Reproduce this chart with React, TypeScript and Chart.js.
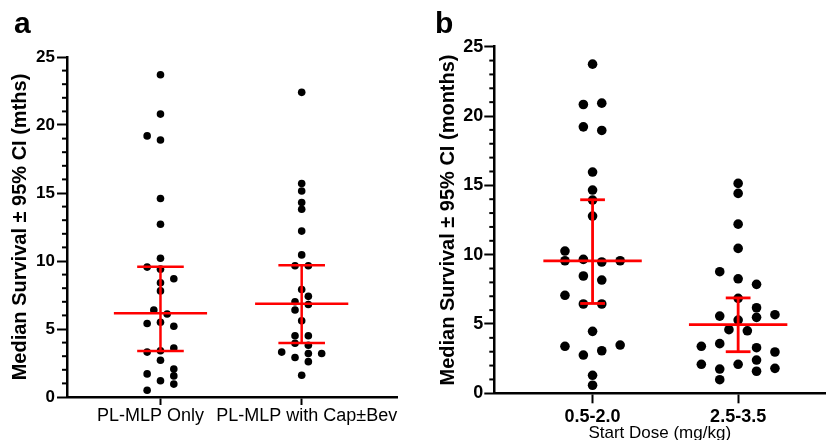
import { useEffect, useRef } from "react";
import { Chart, registerables } from "chart.js";

Chart.register(...registerables);

const FONT = "'Liberation Sans', Arial, Helvetica, sans-serif";

// ---------- Panel a data ----------
const A_CATEGORIES = ["PL-MLP Only", "PL-MLP with Cap±Bev"];
const A_ONLY = [23.7, 20.8, 19.2, 18.9, 14.6, 12.7, 10.2, 9.55, 9.4, 8.7, 8.4, 7.8, 6.4, 6.1, 5.4, 5.5, 5.2, 3.3, 3.4, 3.6, 2.7, 2.05, 1.7, 1.55, 1.2, 0.95, 0.5];
const A_ONLY_DODGE = [0, 0, -2, 0, 0, 0, 0, -2, 0, 2, 0, 0, -1, 1, -2, 0, 2, -2, 0, 2, 0, 2, -2, 2, 0, 2, -2];
const A_CAP = [22.4, 15.7, 15.15, 14.3, 13.8, 12.2, 10.45, 9.65, 9.65, 7.9, 7.4, 7.0, 6.8, 6.4, 5.6, 4.5, 4.5, 3.95, 3.8, 3.3, 3.2, 3.2, 2.9, 2.6, 1.6];
const A_CAP_DODGE = [0, 0, 0, 0, 0, 0, 0, -1, 1, 0, 1, -1, 1, -1, 0, -1, 1, -1, 1, -3, 3, 1, -1, 1, 0];
const A_MEDIAN = [6.15, 6.85];
const A_CI_LOW = [3.38, 3.97];
const A_CI_HIGH = [9.58, 9.68];

// ---------- Panel b data ----------
const B_CATEGORIES = ["0.5-2.0", "2.5-3.5"];
const B_LOWDOSE = [23.74, 20.83, 20.93, 19.22, 18.96, 15.96, 14.66, 13.94, 12.78, 10.26, 9.56, 9.66, 9.47, 9.56, 8.46, 8.17, 7.07, 6.44, 6.44, 4.47, 3.39, 3.48, 2.76, 3.07, 1.3, 0.58];
const B_LOWDOSE_DODGE = [0, -1, 1, -1, 1, 0, 0, 0, 0, -3, -3, -1, 1, 3, -1, 1, -3, -1, 1, 0, -3, 3, -1, 1, 0, 0];
const B_HIGHDOSE = [15.14, 14.42, 12.2, 10.45, 8.77, 8.26, 7.86, 6.85, 6.17, 5.57, 5.67, 5.48, 5.28, 4.59, 4.51, 3.39, 3.58, 3.29, 2.98, 2.4, 2.09, 2.09, 1.75, 1.8, 1.59, 0.98];
const B_HIGHDOSE_DODGE = [0, 0, 0, 0, -2, 0, 2, 0, 2, -2, 4, 2, 0, -1, 1, -4, -2, 2, 4, 2, -4, 0, -2, 4, 2, -2];
const B_MEDIAN = [9.55, 4.95];
const B_CI_LOW = [6.48, 3.0];
const B_CI_HIGH = [13.96, 6.88];

// ---------- Shared axis values ----------
const Y_MIN = 0;
const Y_MAX = 25;
const Y_MAJOR_STEP = 5;
const Y_MINOR_STEP = 1;

type Panel = {
  categories: string[];
  groups: number[][];
  dodges: number[][];
  medians: number[];
  ciLow: number[];
  ciHigh: number[];
  yTitle: string;
  xTitle?: string;
  style: {
    width: number;
    height: number;
    padTop: number;
    padRight: number;
    yAxisWidth: number;
    xAxisHeight: number;
    xMin: number;
    xMax: number;
    dodgeUnit: number;
    medianHalf: number;
    capHalf: number;
    pointRadius: number;
    redWidth: number;
    yTickSize: number;
    yTickPad: number;
    yTitleSize: number;
    yTitlePad: number;
    xTickSize: number;
    xTickBold: boolean;
    xTickLen: number;
    xTickPad: number;
    xLabelSpaces: [number, number][];
  };
};

const minorTicks = {
  id: "minorTicks",
  afterDraw(chart: any) {
    const y = chart.scales.y;
    const ctx = chart.ctx;
    ctx.save();
    ctx.strokeStyle = "#000";
    ctx.lineWidth = 2;
    for (let v = Y_MIN; v <= Y_MAX; v += Y_MINOR_STEP) {
      if (v % Y_MAJOR_STEP === 0) continue;
      const py = y.getPixelForValue(v);
      ctx.beginPath();
      ctx.moveTo(y.right - 5, py);
      ctx.lineTo(y.right, py);
      ctx.stroke();
    }
    ctx.restore();
  },
};

function buildConfig(p: Panel): any {
  const s = p.style;
  const datasets: any[] = [];
  const red = "#ff0000";
  p.medians.forEach((med, i) => {
    const c = i + 1;
    const segs = [
      [{ x: c - s.medianHalf, y: med }, { x: c + s.medianHalf, y: med }],
      [{ x: c, y: p.ciLow[i] }, { x: c, y: p.ciHigh[i] }],
      [{ x: c - s.capHalf, y: p.ciHigh[i] }, { x: c + s.capHalf, y: p.ciHigh[i] }],
      [{ x: c - s.capHalf, y: p.ciLow[i] }, { x: c + s.capHalf, y: p.ciLow[i] }],
    ];
    segs.forEach((d) =>
      datasets.push({
        data: d,
        showLine: true,
        borderColor: red,
        borderWidth: s.redWidth,
        pointRadius: 0,
        fill: false,
        order: 0,
        clip: false,
      })
    );
  });
  p.groups.forEach((vals, i) => {
    const c = i + 1;
    datasets.push({
      data: vals.map((v, k) => ({ x: c + p.dodges[i][k] * s.dodgeUnit, y: v })),
      showLine: false,
      pointRadius: s.pointRadius,
      pointBackgroundColor: "#000",
      pointBorderWidth: 0,
      order: 1,
      clip: false,
    });
  });

  return {
    type: "scatter",
    data: { datasets },
    options: {
      responsive: false,
      animation: false,
      events: [],
      layout: { padding: { top: s.padTop, right: s.padRight, left: 0, bottom: 0 } },
      plugins: { legend: { display: false }, tooltip: { enabled: false }, title: { display: false } },
      scales: {
        x: {
          type: "linear",
          min: s.xMin,
          max: s.xMax,
          afterBuildTicks: (axis: any) => {
            axis.ticks = p.categories.map((_, i) => ({ value: i + 1 }));
          },
          afterFit: (axis: any) => {
            axis.height = s.xAxisHeight;
          },
          ticks: {
            callback: (v: any) => {
              const i = Math.round(Number(v)) - 1;
              const label = p.categories[i];
              if (label === undefined) return "";
              const [lead, trail] = s.xLabelSpaces[i] || [0, 0];
              return " ".repeat(lead) + label + " ".repeat(trail);
            },
            color: "#000",
            font: { family: FONT, size: s.xTickSize, weight: s.xTickBold ? "bold" : "normal" },
            padding: s.xTickPad,
            maxRotation: 0,
            autoSkip: false,
          },
          grid: {
            drawOnChartArea: false,
            drawTicks: true,
            tickLength: s.xTickLen,
            tickWidth: 2,
            tickColor: "#000",
          },
          border: { display: true, color: "#000", width: 2.5 },
          title: p.xTitle
            ? {
                display: true,
                text: p.xTitle,
                color: "#000",
                font: { family: FONT, size: 17, lineHeight: 0.8 },
                padding: { top: 0, bottom: 0 },
              }
            : { display: false },
        },
        y: {
          type: "linear",
          min: Y_MIN,
          max: Y_MAX,
          afterFit: (axis: any) => {
            axis.width = s.yAxisWidth;
          },
          ticks: {
            stepSize: Y_MAJOR_STEP,
            color: "#000",
            font: { family: FONT, size: s.yTickSize, weight: "bold" },
            padding: s.yTickPad,
          },
          grid: {
            drawOnChartArea: false,
            drawTicks: true,
            tickLength: 10,
            tickWidth: 2,
            tickColor: "#000",
          },
          border: { display: true, color: "#000", width: 2.5 },
          title: {
            display: true,
            text: p.yTitle,
            color: "#000",
            font: { family: FONT, size: s.yTitleSize, weight: "bold" },
            padding: { top: s.yTitlePad, bottom: 0 },
          },
        },
      },
    },
    plugins: [minorTicks],
  };
}

const PANEL_A: Panel = {
  categories: A_CATEGORIES,
  groups: [A_ONLY, A_CAP],
  dodges: [A_ONLY_DODGE, A_CAP_DODGE],
  medians: A_MEDIAN,
  ciLow: A_CI_LOW,
  ciHigh: A_CI_HIGH,
  yTitle: "Median Survival ± 95% CI (mths)",
  style: {
    width: 415,
    height: 440,
    padTop: 57,
    padRight: 18,
    yAxisWidth: 67,
    xAxisHeight: 43,
    xMin: 0.338,
    xMax: 2.675,
    dodgeUnit: 0.0472,
    medianHalf: 0.33,
    capHalf: 0.165,
    pointRadius: 3.8,
    redWidth: 2.5,
    yTickSize: 17,
    yTickPad: 2,
    yTitleSize: 20,
    yTitlePad: 8,
    xTickSize: 18,
    xTickBold: false,
    xTickLen: 8,
    xTickPad: 0,
    xLabelSpaces: [
      [0, 4],
      [2, 0],
    ],
  },
};

const PANEL_B: Panel = {
  categories: B_CATEGORIES,
  groups: [B_LOWDOSE, B_HIGHDOSE],
  dodges: [B_LOWDOSE_DODGE, B_HIGHDOSE_DODGE],
  medians: B_MEDIAN,
  ciLow: B_CI_LOW,
  ciHigh: B_CI_HIGH,
  yTitle: "Median Survival ± 95% CI (months)",
  xTitle: "Start Dose (mg/kg)",
  style: {
    width: 415,
    height: 440,
    padTop: 46.7,
    padRight: 0,
    yAxisWidth: 79.3,
    xAxisHeight: 46.7,
    xMin: 0.325,
    xMax: 2.598,
    dodgeUnit: 0.0632,
    medianHalf: 0.338,
    capHalf: 0.085,
    pointRadius: 4.8,
    redWidth: 2.8,
    yTickSize: 18,
    yTickPad: 1,
    yTitleSize: 20,
    yTitlePad: 21,
    xTickSize: 18,
    xTickBold: true,
    xTickLen: 10,
    xTickPad: 3,
    xLabelSpaces: [
      [0, 0],
      [0, 0],
    ],
  },
};

function PanelChart({ panel, left }: { panel: Panel; left: number }) {
  const ref = useRef<HTMLCanvasElement | null>(null);
  useEffect(() => {
    if (!ref.current) return;
    const chart = new Chart(ref.current, buildConfig(panel));
    return () => chart.destroy();
  }, [panel]);
  return (
    <canvas
      ref={ref}
      width={panel.style.width}
      height={panel.style.height}
      style={{
        position: "absolute",
        left,
        top: 0,
        width: panel.style.width,
        height: panel.style.height,
      }}
    />
  );
}

const letterStyle: React.CSSProperties = {
  position: "absolute",
  fontFamily: FONT,
  fontWeight: "bold",
  fontSize: 30,
  lineHeight: "30px",
  color: "#000",
};

export default function App() {
  return (
    <div
      style={{
        position: "absolute",
        left: 0,
        top: 0,
        width: 830,
        height: 440,
        overflow: "hidden",
        background: "#fff",
      }}
    >
      <PanelChart panel={PANEL_A} left={0} />
      <PanelChart panel={PANEL_B} left={415} />
      <div style={{ ...letterStyle, left: 14, top: 8 }}>a</div>
      <div style={{ ...letterStyle, left: 435, top: 8 }}>b</div>
    </div>
  );
}
